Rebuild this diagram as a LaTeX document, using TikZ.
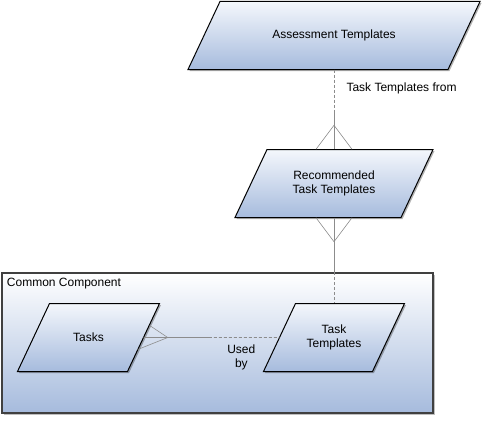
\documentclass[tikz,border=0pt]{standalone}
\usepackage{fontspec}
\setmainfont{Liberation Sans}
\usetikzlibrary{shadows, calc}
\definecolor{boxtop}{HTML}{F4F7FC}
\definecolor{boxbottom}{HTML}{A6BBDD}
\definecolor{linkgray}{HTML}{8C8C8C}

% name, centre, body width, text
\newcommand{\entitybox}[4]{%
  \path[face] ($#2+(-#3/2+16,-34)$) -- ($#2+(#3/2+16,-34)$)
    -- ($#2+(#3/2-16,34)$) -- ($#2+(-#3/2-16,34)$) -- cycle;
  \node[entity, minimum width=#3] (#1) at #2 {#4};}

\begin{document}
\begin{tikzpicture}[
    x=1pt, y=-1pt,
    face/.style={draw=black, line width=1pt, line join=miter,
                 top color=boxtop, bottom color=boxbottom,
                 drop shadow={shadow xshift=1.5pt, shadow yshift=-1.5pt, fill=black, opacity=0.3}},
    entity/.style={rectangle, minimum height=68pt, inner sep=0pt,
                   align=center, font=\fontsize{12}{14}\selectfont},
    group/.style={rectangle, draw=black!75, line width=1.2pt, top color=white,
                  bottom color=boxbottom, minimum width=431pt, minimum height=140pt,
                  drop shadow={shadow xshift=2pt, shadow yshift=-2pt, fill=black, opacity=0.25}},
    link/.style={draw=linkgray, line width=0.6pt},
    optional/.style={link, dash pattern=on 3pt off 2pt},
    lbl/.style={font=\fontsize{12}{14}\selectfont, align=center}
]
\useasboundingbox (0,0) rectangle (486,420);

\node[group] (comp) at (217.5,343) {};
\node[lbl, anchor=north west] (complbl) at ($(comp.north west)+(2,2)$) {Common Component};

\entitybox{assess}{(334,35.5)}{260}{Assessment Templates}
\entitybox{recom}{(334,183.5)}{166}{Recommended\\Task Templates}
\entitybox{tt}{(334,337.5)}{109}{Task\\Templates}
\entitybox{tasks}{(88.5,337.5)}{110}{Tasks}

% assessment -> recommended
\coordinate (tfmid) at ($(assess.south)+(0,42)$);
\draw[optional] (assess.south) -- (tfmid);
\draw[link] (tfmid) -- (recom.north);
\draw[link] ($(recom.north)+(-18,0)$) -- ($(recom.north)+(0,-24)$) -- ($(recom.north)+(18,0)$);
\node[lbl, anchor=west] (tflbl) at ($(assess.south)+(9,19)$) {Task Templates from};

% recommended -> task templates
\coordinate (ccedge) at (recom.south |- comp.north);
\draw[link] (recom.south) -- (ccedge);
\draw[optional] (ccedge) -- (tt.north);
\draw[link] ($(recom.south)+(-18,0)$) -- ($(recom.south)+(0,24)$) -- ($(recom.south)+(18,0)$);

% tasks -> task templates
\coordinate (ubmid) at ($(tasks.east)!0.48!(tt.west)$);
\draw[link] (tasks.east) -- (ubmid);
\draw[optional] (ubmid) -- (tt.west);
\draw[link] ($(tasks.east)+(6,-12)$) -- ($(tasks.east)+(24,0)$) -- ($(tasks.east)+(-6,12)$);
\node[lbl, anchor=north] (ublbl) at ($(tasks.east)!0.72!(tt.west)+(0,4)$) {Used\\by};

\end{tikzpicture}
\end{document}
